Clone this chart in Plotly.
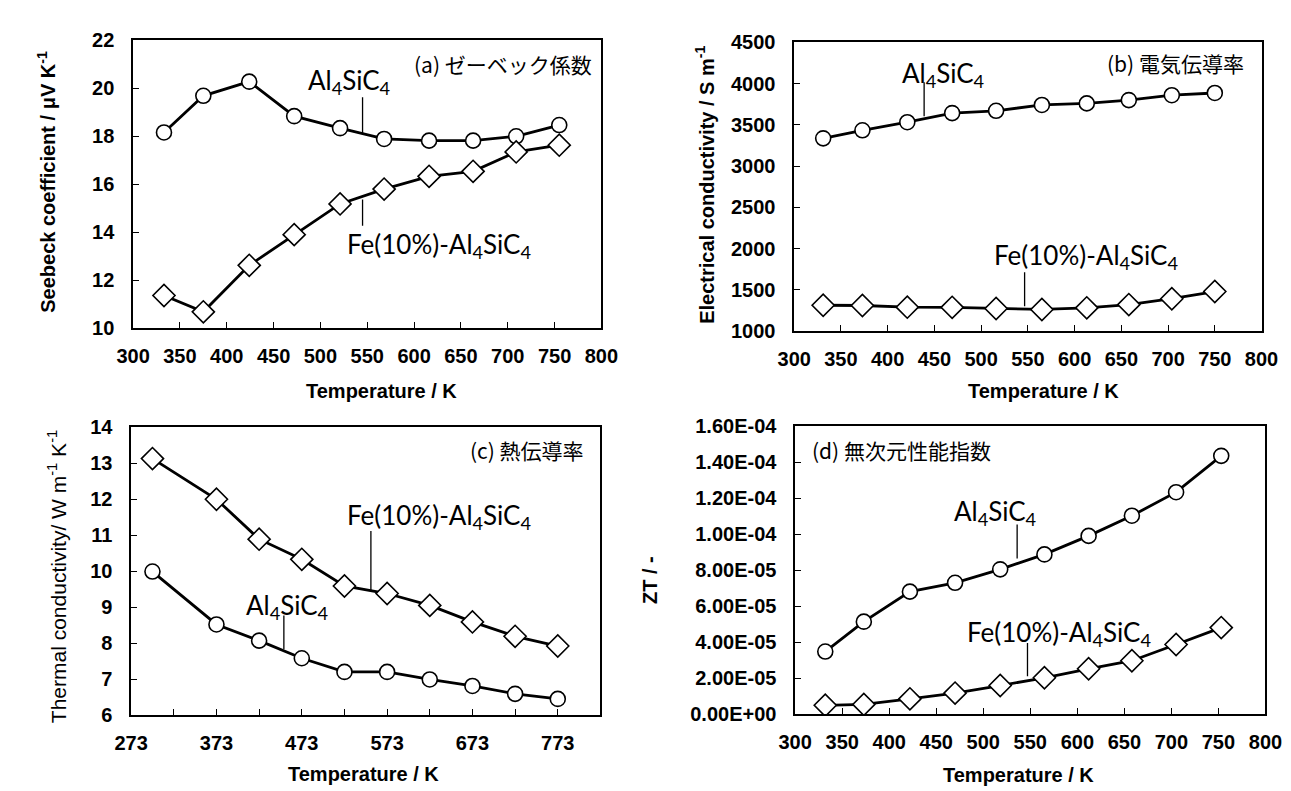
import plotly.graph_objects as go

# ---------------- data ----------------
temp_a = [333, 375, 424, 472, 521, 568, 616, 663, 709, 755]
seebeck_al = [18.16, 19.69, 20.28, 18.84, 18.34, 17.89, 17.82, 17.82, 18.00, 18.47]
seebeck_fe = [11.36, 10.68, 12.62, 13.90, 15.18, 15.80, 16.33, 16.54, 17.35, 17.63]

temp_b = [331, 373, 421, 469, 516, 565, 613, 658, 704, 750]
elec_al = [3336, 3434, 3532, 3642, 3670, 3741, 3760, 3800, 3859, 3886]
elec_fe = [1313, 1310, 1290, 1288, 1274, 1262, 1282, 1321, 1392, 1479]

temp_c = [298, 373, 423, 473, 523, 573, 623, 673, 723, 773]
therm_al = [9.99, 8.52, 8.07, 7.58, 7.20, 7.20, 6.99, 6.81, 6.59, 6.45]
therm_fe = [13.13, 12.00, 10.89, 10.33, 9.59, 9.38, 9.05, 8.59, 8.19, 7.92]

temp_d = [332, 373, 422, 470, 518, 565, 612, 658, 705, 753]
zt_al = [3.48e-5, 5.14e-5, 6.81e-5, 7.30e-5, 8.05e-5, 8.88e-5, 9.91e-5, 11.03e-5, 12.34e-5, 14.36e-5]
zt_fe = [0.49e-5, 0.54e-5, 0.85e-5, 1.17e-5, 1.59e-5, 2.02e-5, 2.52e-5, 2.97e-5, 3.87e-5, 4.81e-5]

x_ticks_std = [300, 350, 400, 450, 500, 550, 600, 650, 700, 750, 800]
x_ticks_c = [273, 323, 373, 423, 473, 523, 573, 623, 673, 723, 773]
x_ticktext_c = ["273", "", "373", "", "473", "", "573", "", "673", "", "773"]
zt_tickvals = [0, 2e-5, 4e-5, 6e-5, 8e-5, 1e-4, 1.2e-4, 1.4e-4, 1.6e-4]
zt_ticktext = ["0.00E+00", "2.00E-05", "4.00E-05", "6.00E-05", "8.00E-05",
               "1.00E-04", "1.20E-04", "1.40E-04", "1.60E-04"]

AL = "Al<sub>4</sub>SiC<sub>4</sub>"
FE = "Fe(10%)-Al<sub>4</sub>SiC<sub>4</sub>"

# ---------------- figure ----------------
fig = go.Figure()

W, H = 1291, 791
def dx(a, b):
    return [a / W, b / W]
def dy(top, bottom):
    return [1 - bottom / H, 1 - top / H]

line_style = dict(color="black", width=2.8)
circ = dict(symbol="circle", size=15, color="white", line=dict(color="black", width=1.6))
diam = dict(symbol="diamond", size=17, color="white", line=dict(color="black", width=1.6))

panels = [
    (temp_a, seebeck_al, seebeck_fe, "x", "y"),
    (temp_b, elec_al, elec_fe, "x2", "y2"),
    (temp_c, therm_al, therm_fe, "x3", "y3"),
    (temp_d, zt_al, zt_fe, "x4", "y4"),
]
for t, al, fe, xa, ya in panels:
    fig.add_trace(go.Scatter(x=t, y=al, mode="lines+markers", line=line_style,
                             marker=circ, xaxis=xa, yaxis=ya, showlegend=False, name="Al4SiC4"))
    fig.add_trace(go.Scatter(x=t, y=fe, mode="lines+markers", line=line_style,
                             marker=diam, xaxis=xa, yaxis=ya, showlegend=False, name="Fe(10%)-Al4SiC4"))

tick_font = dict(family="Liberation Sans, Arial, sans-serif", size=20, color="black", weight="bold")
ax_common = dict(showline=True, linecolor="black", linewidth=1.5, mirror=True,
                 ticks="inside", ticklen=6, tickcolor="black", tickwidth=1.2,
                 showgrid=False, zeroline=False, tickfont=tick_font)
xa_common = dict(ticklabelstandoff=9, **ax_common)
ya_common = dict(ticklabelstandoff=13, **ax_common)

layout = dict(
    width=W, height=H, margin=dict(l=0, r=0, t=0, b=0),
    paper_bgcolor="white", plot_bgcolor="white",
    xaxis=dict(domain=dx(111, 592), range=[300, 800], tickvals=x_ticks_std, anchor="y", **xa_common),
    yaxis=dict(domain=dy(22, 318), range=[10, 22], dtick=2, anchor="x", **ya_common),
    xaxis2=dict(domain=dx(790, 1270), range=[300, 800], tickvals=x_ticks_std, anchor="y2", **xa_common),
    yaxis2=dict(domain=dy(24, 321), range=[1000, 4500], dtick=500, anchor="x2", **ya_common),
    xaxis3=dict(domain=dx(109, 591), range=[273, 823], tickvals=x_ticks_c, ticktext=x_ticktext_c,
                anchor="y3", **xa_common),
    yaxis3=dict(domain=dy(420, 716), range=[6, 14], dtick=1, anchor="x3", **ya_common),
    xaxis4=dict(domain=dx(791, 1274), range=[300, 800], tickvals=x_ticks_std, anchor="y4", **xa_common),
    yaxis4=dict(domain=dy(419, 715), range=[0, 1.6e-4], tickvals=zt_tickvals, ticktext=zt_ticktext,
                anchor="x4", **ya_common),
)
fig.update_layout(**layout)

lab_font = dict(family="Lato, Carlito, sans-serif", size=26, color="black")
ttl_font = dict(family="Noto Sans CJK JP, sans-serif", size=21, color="black")
axt_font = dict(family="Liberation Sans, Arial, sans-serif", size=20, color="black", weight="bold")
axt_font_c = dict(family="Liberation Sans, Arial, sans-serif", size=21, color="black")

ann = []
def label(text, x, y, xr, yr, font, xanchor="center"):
    ann.append(dict(text=text, x=x, y=y, xref=xr, yref=yr, showarrow=False,
                    font=font, xanchor=xanchor, yanchor="middle"))

# series labels
label(AL, 531, 20.3, "x", "y", lab_font)
label(FE, 627, 13.45, "x", "y", lab_font)
label(AL, 460, 4110, "x2", "y2", lab_font)
label(FE, 612, 1905, "x2", "y2", lab_font)
label(FE, 634, 11.52, "x3", "y3", lab_font)
label(AL, 456, 9.03, "x3", "y3", lab_font)
label(AL, 513, 1.12e-4, "x4", "y4", lab_font)
label(FE, 580, 4.5e-5, "x4", "y4", lab_font)

# panel titles
label("(a) ゼーベック係数", 792, 21.0, "x", "y", ttl_font, "right")
label("(b) 電気伝導率", 783, 4252, "x2", "y2", ttl_font, "right")
label("(c) 熱伝導率", 806, 13.37, "x3", "y3", ttl_font, "right")
label("(d) 無次元性能指数", 316, 1.47e-4, "x4", "y4", ttl_font, "left")

# axis titles
def xtitle(text, x, y, font):
    ann.append(dict(text=text, x=x / W, y=1 - y / H, xref="paper", yref="paper", showarrow=False,
                    font=font, xanchor="center", yanchor="middle"))
def ytitle(text, x, y, font):
    ann.append(dict(text=text, x=x / W, y=1 - y / H, xref="paper", yref="paper", showarrow=False,
                    font=font, xanchor="center", yanchor="middle", textangle=-90))

xtitle("Temperature / K", 366, 383, axt_font)
xtitle("Temperature / K", 1046, 383, axt_font)
xtitle("Temperature / K", 348, 777, axt_font)
xtitle("Temperature / K", 1020, 778, axt_font)
ytitle("Seebeck coefficient / μV K<sup>-1</sup>", 22, 167, axt_font)
ytitle("Electrical conductivity / S m<sup>-1</sup>", 698, 171, axt_font)
ytitle("Thermal conductivity/ W m<sup>-1</sup> K<sup>-1</sup>", 33, 574, axt_font_c)
ytitle("ZT / -", 642, 577, axt_font)

fig.update_layout(annotations=ann)

# leader lines
leaders = [
    ("x", "y", 545, 19.63, 18.14),
    ("x", "y", 545, 15.36, 14.27),
    ("x2", "y2", 439, 4016, 3603),
    ("x2", "y2", 546.5, 1714, 1301),
    ("x3", "y3", 554, 11.12, 9.45),
    ("x3", "y3", 452, 8.77, 7.83),
    ("x4", "y4", 536, 1.054e-4, 0.865e-4),
    ("x4", "y4", 547, 3.96e-5, 2.1e-5),
]
for xr, yr, x0, y0, y1 in leaders:
    fig.add_shape(type="line", xref=xr, yref=yr, x0=x0, x1=x0, y0=y0, y1=y1,
                  line=dict(color="black", width=1.3))

fig.write_html("out.html")
